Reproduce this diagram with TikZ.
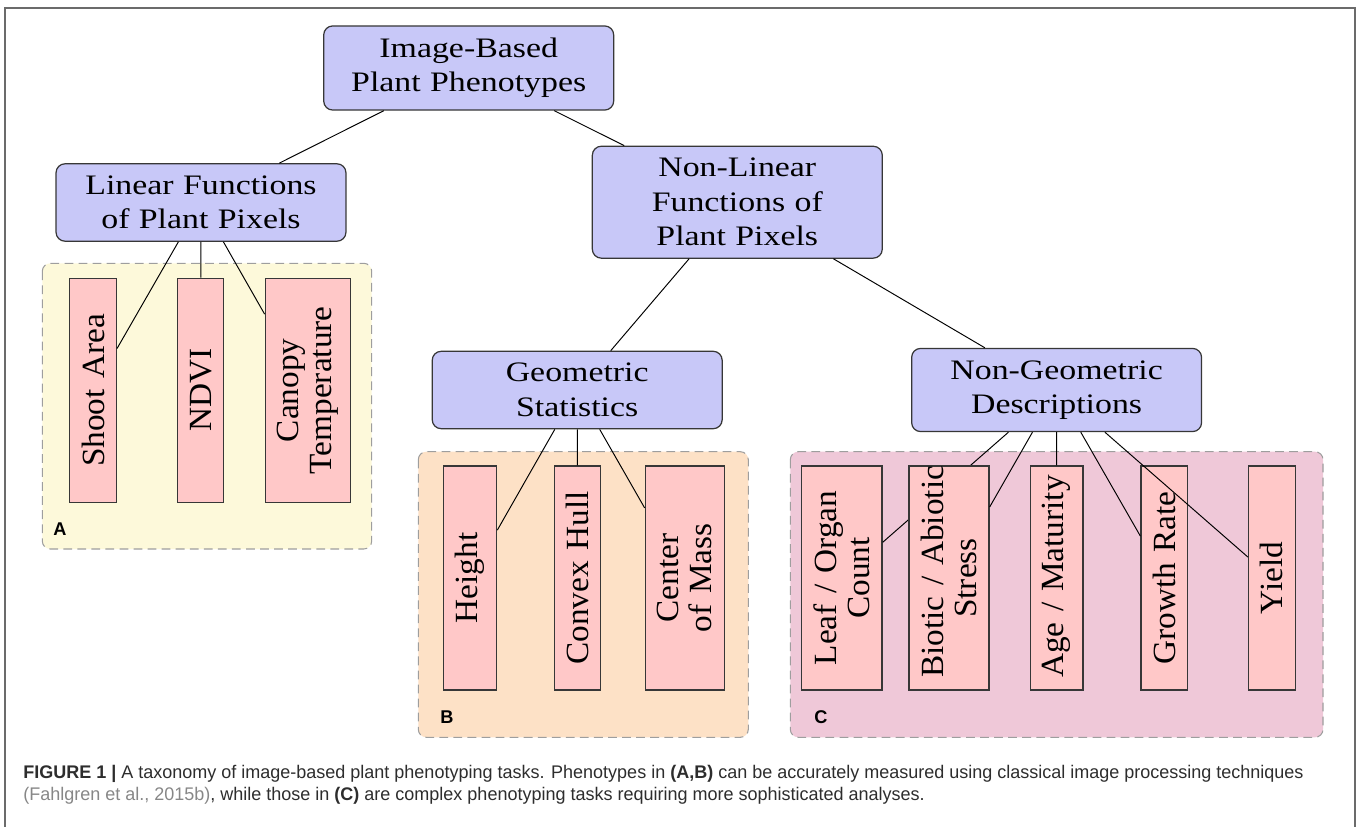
\documentclass[tikz,border=0pt]{standalone}
\usepackage{fontspec}
\setmainfont[FakeStretch=1.2]{Liberation Serif}
\newfontfamily\leaffont[FakeStretch=1.03]{Liberation Serif}
\newfontfamily\capfont[FakeStretch=0.985]{Liberation Sans}
\usepackage{xcolor}
\definecolor{parentfill}{RGB}{200,200,248}
\definecolor{leaffill}{RGB}{255,200,200}
\definecolor{panelA}{RGB}{253,249,218}
\definecolor{panelB}{RGB}{253,225,198}
\definecolor{panelC}{RGB}{239,200,216}
\definecolor{boxline}{RGB}{55,55,55}
\definecolor{captext}{RGB}{45,45,45}
\definecolor{citegray}{RGB}{135,135,135}

\begin{document}
\begin{tikzpicture}[x=0.02cm,y=-0.02cm,
  parent/.style={draw=boxline,line width=0.7pt,fill=parentfill,rounded corners=0.18cm,
    text width=5.32cm,inner sep=0.24cm,align=center,font=\fontsize{16.05}{19.63}\selectfont},
  leaf/.style={draw=boxline,line width=0.7pt,fill=leaffill,rotate=90,
    text width=4cm,inner sep=0.24cm,align=center,font=\leaffont\fontsize{18.4}{18.95}\selectfont},
  panel/.style={draw=black!38,line width=0.6pt,dash pattern=on 5pt off 3pt,rounded corners=0.16cm},
  link/.style={line width=0.55pt},
  tag/.style={font=\capfont\bfseries\fontsize{10.5}{12}\selectfont,anchor=base west,inner sep=0pt},
  capline/.style={font=\capfont\fontsize{10.4}{12}\selectfont,text=captext,anchor=base west,inner sep=0pt}]
\useasboundingbox (0,0) rectangle (1358,827);
\draw[black!58,line width=1.1pt] (5,840) -- (5,8.3) -- (1354.7,8.3) -- (1354.7,840);
\draw[panel,fill=panelA] (42.3,263.3) rectangle (371.7,549);
\draw[panel,fill=panelB] (418.3,451.7) rectangle (748.3,737.3);
\draw[panel,fill=panelC] (790.3,451.7) rectangle (1323,737.3);
\node[tag] (tagA) at (53,535) {A};
\node[tag] (tagB) at (440,723) {B};
\node[tag] (tagC) at (814,723) {C};

\node[parent] (root) at (468.7,68) {Image-Based\\Plant Phenotypes};
\node[parent] (lin) at (201,202.5) {Linear Functions\\of Plant Pixels};
\draw[link] (root) -- (lin);
\node[parent] (nonlin) at (737.3,202.2) {Non-Linear\\Functions of\\Plant Pixels};
\draw[link] (root) -- (nonlin);

\node[leaf] (shoot) at (93,390.3) {Shoot Area};
\draw[link] (lin) -- (shoot);
\node[leaf] (ndvi) at (200.7,390.3) {NDVI};
\draw[link] (lin) -- (ndvi);
\node[leaf] (canopy) at (308,390.3) {Canopy\\Temperature};
\draw[link] (lin) -- (canopy);

\node[parent] (geo) at (577.2,390) {Geometric\\Statistics};
\draw[link] (nonlin) -- (geo);
\node[parent] (nongeo) at (1056.6,390) {Non-Geometric\\Descriptions};
\draw[link] (nonlin) -- (nongeo);

\node[leaf] (height) at (470,578) {Height};
\draw[link] (geo) -- (height);
\node[leaf] (hull) at (577.5,578) {Convex Hull};
\draw[link] (geo) -- (hull);
\node[leaf] (mass) at (684.7,578) {Center\\of Mass};
\draw[link] (geo) -- (mass);

\node[leaf] (organ) at (841.9,578) {\mbox{Leaf / Organ}\\Count};
\draw[link] (nongeo) -- (organ);
\node[leaf] (stress) at (949,578) {\mbox{Biotic / Abiotic}\\Stress};
\draw[link] (nongeo) -- (stress);
\node[leaf] (age) at (1056.7,578) {\mbox{Age / Maturity}};
\draw[link] (nongeo) -- (age);
\node[leaf] (growth) at (1164.4,578) {Growth Rate};
\draw[link] (nongeo) -- (growth);
\node[leaf] (yield) at (1271.9,578) {Yield};
\draw[link] (nongeo) -- (yield);

\node[capline] (cap1) at (23,778.7) {\textbf{FIGURE 1 |} A taxonomy of image-based plant phenotyping tasks. Phenotypes in \textbf{(A,B)} can be accurately measured using classical image processing techniques};
\node[capline] (cap2) at (23,800) {{\color{citegray}(Fahlgren et al., 2015b)}, while those in \textbf{(C)} are complex phenotyping tasks requiring more sophisticated analyses.};
\end{tikzpicture}
\end{document}
